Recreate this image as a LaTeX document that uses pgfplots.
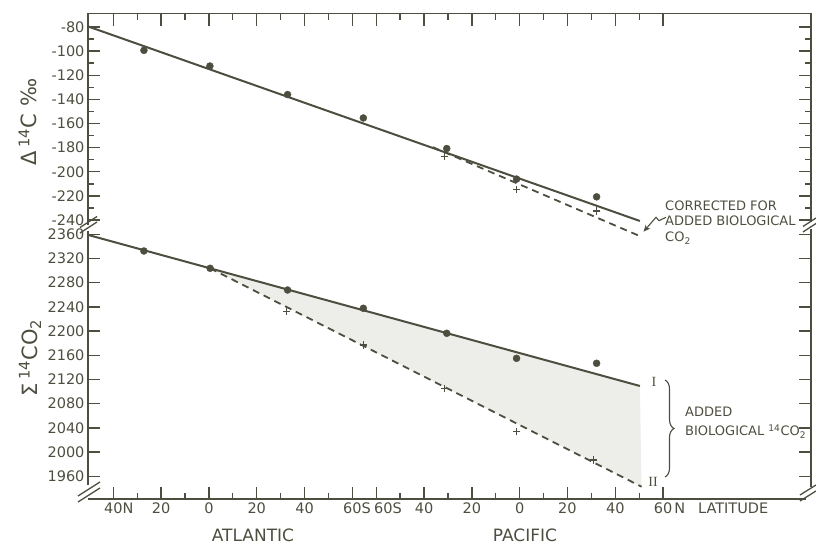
\documentclass[border=0pt]{standalone}
\usepackage{pgfplots}
\pgfplotsset{compat=1.18}
\usepackage{fontspec}
\setmainfont{DejaVu Sans}
\newfontfamily\romfont{Liberation Serif}
\usetikzlibrary{decorations.pathreplacing,arrows.meta}
\definecolor{ink}{RGB}{78,78,64}
\definecolor{shade}{RGB}{237,237,234}

\pgfplotsset{
  panel/.style={
    scale only axis, width=723pt,
    xmin=-50.6, xmax=251.9,
    axis line style={draw=none},
    clip=false,
    tick align=inside,
    major tick length=12pt, minor tick length=6pt,
    every tick/.append style={ink, line width=1.3pt},
    xtick={-40,-20,0,20,40,60,70,90,110,130,150,170,190},
    minor xtick={-30,-10,10,30,50,80,100,120,140,160,180},
    ytick pos=both,
    ticklabel style={font=\fontsize{14.5}{17}\selectfont, text=ink},
  }
}

\begin{document}
\begin{tikzpicture}[x=1pt,y=1pt]
\useasboundingbox (0,0) rectangle (816,545);

% ---------- top panel ----------
\begin{axis}[panel,
  at={(88pt,317pt)}, anchor=south west, height=214pt,
  ymin=-246.5, ymax=-69.3,
  xtick pos=right, xticklabels={},
  ytick={-240,-220,-200,-180,-160,-140,-120,-100,-80},
  yticklabels={-240,-220,-200,-180,-160,-140,-120,-100,-80},
  minor ytick={-230,-210,-190,-170,-150,-130,-110,-90},
]
\addplot[ink, line width=2pt] coordinates {(-50.6,-79.6) (180.3,-240.7)};
\addplot[ink, line width=1.8pt, dash pattern=on 7pt off 5pt] coordinates {(93.7,-179.6) (181.2,-254.0)};
\addplot[only marks, mark=*, mark size=3.5pt, ink] coordinates {
  (-27.2,-99.4) (0.4,-112.4) (32.9,-136.0) (64.6,-155.4) (99.5,-180.7) (128.7,-206.0) (162.2,-220.7)};
\addplot[only marks, mark=+, mark size=3.6pt, ink, line width=1.2pt] coordinates {
  (98.7,-187.0) (128.7,-214.7) (162.0,-232.5)};
\end{axis}

% ---------- bottom panel ----------
\begin{axis}[panel,
  at={(88pt,46pt)}, anchor=south west, height=271pt,
  ymin=1922.5, ymax=2370.4,
  xtick pos=left,
  xticklabels={40\rlap{N},20,0,20,40,60\rlap{S},\rlap{\hspace{-2pt}60S},40,20,0,20,40,60\rlap{\hspace{2pt}N\hspace{13pt}LATITUDE}},
  ytick={1960,2000,2040,2080,2120,2160,2200,2240,2280,2320,2360},
  yticklabels={1960,2000,2040,2080,2120,2160,2200,2240,2280,2320,2360},
]
\addplot[fill=shade, draw=none] coordinates {(0.5,2303.8) (180.3,2109.3) (181,1942.8) (0.5,2303.8)};
\addplot[ink, line width=2pt] coordinates {(-50.6,2359) (180.3,2109.3)};
\addplot[ink, line width=1.8pt, dash pattern=on 7pt off 5pt] coordinates {(0.5,2303.8) (181,1942.8)};
\addplot[only marks, mark=*, mark size=3.5pt, ink] coordinates {
  (-27.2,2332.4) (0.5,2303.8) (32.9,2267.9) (64.6,2237.7) (99.5,2196.4) (128.7,2155.0) (162.2,2146.8)};
\addplot[only marks, mark=+, mark size=3.6pt, ink, line width=1.2pt] coordinates {
  (32.5,2232.1) (64.6,2177.0) (98.7,2105.5) (128.7,2033.7) (160.8,1986.9)};
\end{axis}

% ---------- frame with breaks ----------
\begin{scope}[ink, line width=1.6pt]
\draw (88,531.5) -- (811,531.5);
\draw (88,531.5) -- (88,320);
\draw (88,314) -- (88,60);
\draw (811,531.5) -- (811,323);
\draw (811,316) -- (811,58);
\draw (88,46) -- (806,46);
\end{scope}
\begin{scope}[ink, line width=1.3pt]
\draw (80,312) -- (97,323);
\draw (80,317.5) -- (97,328.5);
\draw (803,313) -- (816,321.5);
\draw (803,318.5) -- (816,327);
\draw (78,43) -- (100,57);
\draw (78,49) -- (100,63);
\draw (800,44) -- (816,54);
\draw (800,50) -- (816,60);
\end{scope}

% ---------- axis titles ----------
\node[rotate=90, text=ink, font=\fontsize{21}{24}\selectfont] at (28,423) {Δ\,\textsuperscript{14}C ‰};
\node[rotate=90, text=ink, font=\fontsize{21}{24}\selectfont] at (30,187) {Σ\,\textsuperscript{14}CO\textsubscript{2}};
\node[anchor=base, text=ink, font=\fontsize{17}{20}\selectfont] at (253,3) {ATLANTIC};
\node[anchor=base, text=ink, font=\fontsize{17}{20}\selectfont] at (525,3) {PACIFIC};

% ---------- annotations ----------
\begin{scope}[text=ink, font=\fontsize{13}{15}\selectfont]
\node[anchor=base west, inner sep=0pt] at (665,334.5) {CORRECTED FOR};
\node[anchor=base west, inner sep=0pt] at (665,319.5) {ADDED BIOLOGICAL};
\node[anchor=base west, inner sep=0pt] at (665,303.5) {CO\textsubscript{2}};
\node[anchor=base west, inner sep=0pt] at (685,128) {ADDED};
\node[anchor=base west, inner sep=0pt] at (685,109) {BIOLOGICAL \textsuperscript{14}CO\textsubscript{2}};
\end{scope}
\draw[ink, line width=1.1pt, -{Stealth[length=7pt,width=6pt]}] (666,327.7) -- (659,324.3) -- (656,327.7) -- (643.5,313.3);
\node[text=ink, font=\romfont\fontsize{14}{16}\selectfont] at (654,163) {I};
\node[text=ink, font=\romfont\fontsize{14}{16}\selectfont] at (653,63) {II};
\draw[ink, line width=1.1pt, decorate, decoration={brace, amplitude=9pt}] (665,165) -- (665,68);
\end{tikzpicture}
\end{document}
